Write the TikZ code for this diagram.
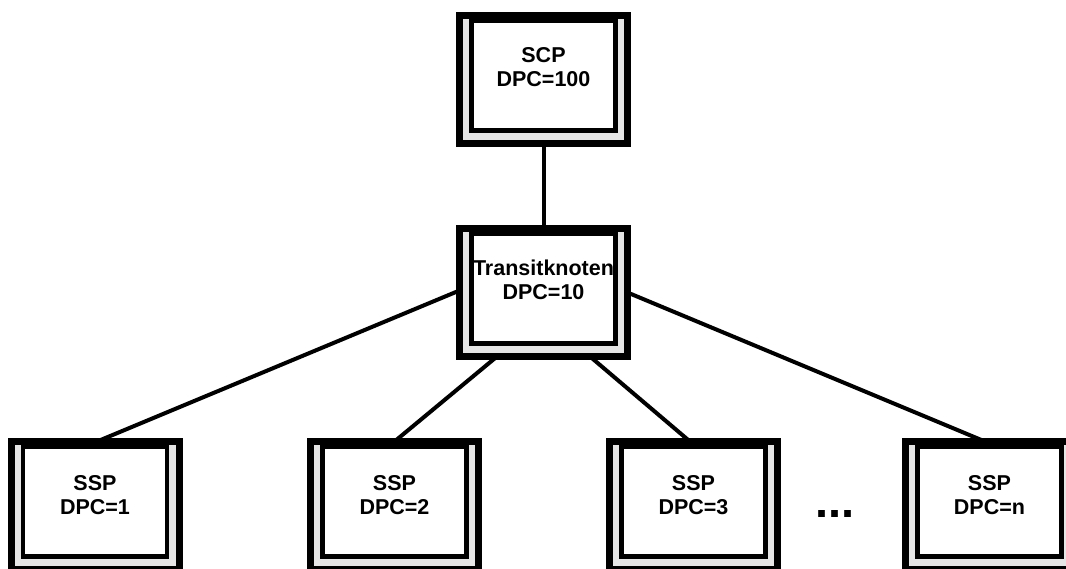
\documentclass[tikz,border=0pt]{standalone}
\usepackage{fontspec}
\setmainfont{Liberation Sans}
\pgfdeclarelayer{background}
\pgfsetlayers{background,main}
\definecolor{framegrey}{RGB}{230,230,230}
\tikzset{
  frame/.style={draw=black, fill=framegrey, line width=7pt,
    minimum width=168pt, minimum height=128pt, inner sep=0pt, outer sep=0pt},
  inset/.style={draw=black, fill=white, line width=4.5pt},
  caption/.style={font=\bfseries\fontsize{21.5}{24.5}\selectfont, align=center, inner sep=0pt},
  link/.style={line width=4pt},
  dotsnode/.style={font=\bfseries\fontsize{47}{47}\selectfont, inner sep=0pt, anchor=base}
}
% inner white panel of a framed box
\newcommand\insetframe[1]{%
  \draw[inset] ([xshift=12pt,yshift=-5.5pt]#1.north west) rectangle ([xshift=-12pt,yshift=13pt]#1.south east);}
\begin{document}
\begin{tikzpicture}[x=1pt,y=1pt]
  \useasboundingbox (0,0) rectangle (1066,-568);
  \clip (0,0) rectangle (1066,-568);

  % framed boxes
  \node[frame] (scp) at (543.5,-79.5) {};
  \insetframe{scp}
  \node[caption] (scp-text) at (543.5,-67) {SCP\\DPC=100};

  \node[frame] (trans) at (543.5,-292.5) {};
  \insetframe{trans}
  \node[caption] (trans-text) at (543.5,-280) {Transitknoten\\DPC=10};

  \node[frame] (ssp1) at (95,-505.5) {};
  \insetframe{ssp1}
  \node[caption] (ssp1-text) at (95,-495) {SSP\\DPC=1};

  \node[frame] (ssp2) at (394.5,-505.5) {};
  \insetframe{ssp2}
  \node[caption] (ssp2-text) at (394.5,-495) {SSP\\DPC=2};

  \node[frame] (ssp3) at (693.5,-505.5) {};
  \insetframe{ssp3}
  \node[caption] (ssp3-text) at (693.5,-495) {SSP\\DPC=3};

  \node[frame] (sspn) at (989.5,-505.5) {};
  \insetframe{sspn}
  \node[caption] (sspn-text) at (989.5,-495) {SSP\\DPC=n};

  \node[dotsnode] (more) at (835,-517) {...};

  % connectors behind the boxes
  \begin{pgfonlayer}{background}
    \draw[link] (scp.south) -- (trans.north);
    \draw[link] ([yshift=2pt]trans.west) -- ([xshift=2pt]ssp1.north);
    \draw[link] ([xshift=-46.5pt]trans.south) -- (ssp2.north);
    \draw[link] ([xshift=46.5pt]trans.south) -- ([xshift=-3.5pt]ssp3.north);
    \draw[link] (trans.east) -- ([xshift=-4.5pt]sspn.north);
  \end{pgfonlayer}
\end{tikzpicture}
\end{document}
